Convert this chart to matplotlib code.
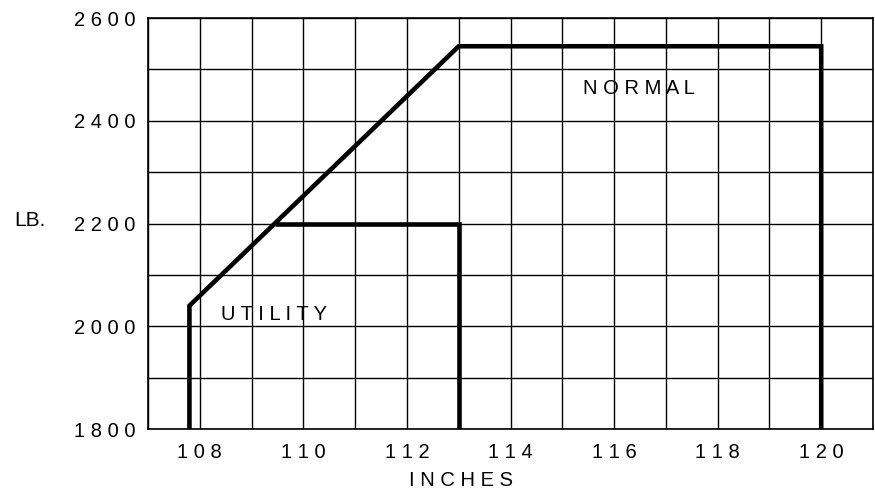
import matplotlib.pyplot as plt

# envelope (inches, lb)
normal_x = [107.8, 107.8, 113.0, 120.0, 120.0]
normal_y = [1800, 2040, 2545, 2545, 1800]
utility_x = [109.45, 113.0, 113.0]
utility_y = [2200, 2200, 1800]

x_ticks = [108, 110, 112, 114, 116, 118, 120]
y_ticks = [1800, 2000, 2200, 2400, 2600]
x_labels = ['1 0 8', '1 1 0', '1 1 2', '1 1 4', '1 1 6', '1 1 8', '1 2 0']
y_labels = ['1 8 0 0', '2 0 0 0', '2 2 0 0', '2 4 0 0', '2 6 0 0']

plt.rcParams['font.family'] = ['Liberation Sans', 'DejaVu Sans']

fig = plt.figure(figsize=(8.75, 4.94), dpi=100)
ax = fig.add_axes([148 / 875, 65 / 494, 725 / 875, 411 / 494])

ax.set_xlim(107, 121)
ax.set_ylim(1800, 2600)

ax.set_xticks(x_ticks)
ax.set_xticklabels(x_labels)
ax.set_yticks(y_ticks)
ax.set_yticklabels(y_labels)

# grid every inch / every 100 lb
ax.set_xticks([107, 109, 111, 113, 115, 117, 119, 121], minor=True)
ax.set_yticks([1900, 2100, 2300, 2500], minor=True)
ax.grid(which='both', color='black', linewidth=1.0)
ax.set_axisbelow(True)

ax.tick_params(which='both', length=0, labelsize=14.5)
ax.tick_params(axis='x', pad=10)
ax.tick_params(axis='y', pad=9)

for s in ax.spines.values():
    s.set_linewidth(1.2)
    s.set_color('black')

ax.plot(normal_x, normal_y, color='black', linewidth=3.3,
        solid_joinstyle='miter', solid_capstyle='butt')
ax.plot(utility_x, utility_y, color='black', linewidth=3.3,
        solid_joinstyle='miter', solid_capstyle='butt')

ax.text(115.4, 2453, 'N O R M A L', fontsize=14.5, ha='left', va='baseline')
ax.text(108.41, 2012, 'U T I L I T Y', fontsize=14.5, ha='left', va='baseline')

fig.text(14 / 875, 1 - 220 / 494, 'LB.', fontsize=15, ha='left', va='center')
fig.text(461 / 875, 1 - 480 / 494, 'I N C H E S', fontsize=14.5,
         ha='center', va='center')

fig.savefig('out.png', dpi=100)
